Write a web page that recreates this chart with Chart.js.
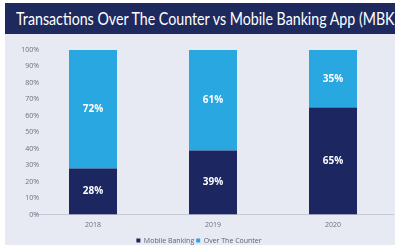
<!DOCTYPE html>
<html>
<head>
<meta charset="utf-8">
<script src="https://cdn.jsdelivr.net/npm/chart.js@4.4.0/dist/chart.umd.min.js"></script>
<style>
  html, body { margin: 0; padding: 0; background: #ffffff; }
  body { width: 395px; height: 247px; position: relative; overflow: hidden; }
  #header {
    position: absolute; left: 5px; top: 3px; width: 390px; height: 31px;
    background: #1e2a5e; overflow: hidden; white-space: nowrap;
  }
  #header span {
    position: absolute; left: 11px; top: 5px;
    font-family: "Lato", sans-serif; font-size: 17px; color: #ffffff;
    transform-origin: 0 0;
  }
  #panel {
    position: absolute; left: 5px; top: 34px; width: 390px; height: 211px;
    background: #e7eaf3;
  }
</style>
</head>
<body>
<div id="header"><span id="title">Transactions Over The Counter vs Mobile Banking App (MBK)</span></div>
<div id="panel"><canvas id="bankChart" width="390" height="211"></canvas></div>
<script>
// chart data
const years = ['2018', '2019', '2020'];
const mobileBanking = [28, 39, 65];
const overTheCounter = [72, 61, 35];
const yTickValues = [0, 10, 20, 30, 40, 50, 60, 70, 80, 90, 100];

// squeeze the title so "(MBK" ends right at the panel edge like the picture
const title = document.getElementById('title');
const wanted = 382; // px for the whole string
title.style.transform = 'scaleX(' + (wanted / title.offsetWidth) + ')';

const tickFont = '7px "Open Sans", sans-serif';
const tickColor = '#6a6f82';

// draws the percentages in the middle of each bar segment
const segmentLabels = {
  id: 'segmentLabels',
  afterDatasetsDraw(chart) {
    const ctx = chart.ctx;
    ctx.save();
    ctx.font = 'bold 10px "Open Sans", sans-serif';
    ctx.fillStyle = '#ffffff';
    ctx.textAlign = 'center';
    ctx.textBaseline = 'middle';
    chart.data.datasets.forEach((ds, i) => {
      chart.getDatasetMeta(i).data.forEach((bar, j) => {
        const p = bar.getProps(['x', 'y', 'base'], true);
        ctx.fillText(ds.data[j] + '%', p.x, (p.y + p.base) / 2);
      });
    });
    ctx.restore();
  }
};

// y tick labels poke a little past the axis box in the picture, chart.js clips them,
// so they are drawn here off the y scale instead
const yLabels = {
  id: 'yLabels',
  afterDraw(chart) {
    const ctx = chart.ctx;
    const y = chart.scales.y;
    ctx.save();
    ctx.font = tickFont;
    ctx.fillStyle = tickColor;
    ctx.textAlign = 'right';
    ctx.textBaseline = 'middle';
    yTickValues.forEach(v => {
      ctx.fillText(v + '%', chart.chartArea.left + 6, y.getPixelForValue(v));
    });
    ctx.restore();
  }
};

const ctx = document.getElementById('bankChart').getContext('2d');
const bankChart = new Chart(ctx, {
  type: 'bar',
  data: {
    labels: years,
    datasets: [{
      label: 'Mobile Banking',
      data: mobileBanking,
      backgroundColor: '#1c2660',
      categoryPercentage: 0.8,
      barPercentage: 0.5
    }, {
      label: 'Over The Counter',
      data: overTheCounter,
      backgroundColor: '#29a7e1',
      categoryPercentage: 0.8,
      barPercentage: 0.5
    }]
  },
  options: {
    responsive: false,
    animation: false,
    layout: { padding: { left: 0, right: 2, top: 16, bottom: -9 } },
    plugins: {
      tooltip: { enabled: false },
      legend: {
        position: 'bottom',
        labels: {
          usePointStyle: true,
          pointStyle: 'rect',
          boxWidth: 4,
          boxHeight: 4,
          padding: 2,
          color: '#5a5f73',
          font: { family: '"Open Sans", sans-serif', size: 7 }
        }
      }
    },
    scales: {
      x: {
        stacked: true,
        grid: { display: false, drawTicks: false },
        border: { display: true, color: '#c5c9d6', width: 1 },
        ticks: {
          color: tickColor,
          padding: 6,
          font: { family: '"Open Sans", sans-serif', size: 7 }
        }
      },
      y: {
        stacked: true,
        min: 0,
        max: 100,
        afterFit(scale) { scale.width = 28; },
        grid: { display: false, drawTicks: false },
        border: { display: false },
        ticks: { display: false, stepSize: 10 }
      }
    }
  },
  plugins: [segmentLabels, yLabels]
});
</script>
</body>
</html>
